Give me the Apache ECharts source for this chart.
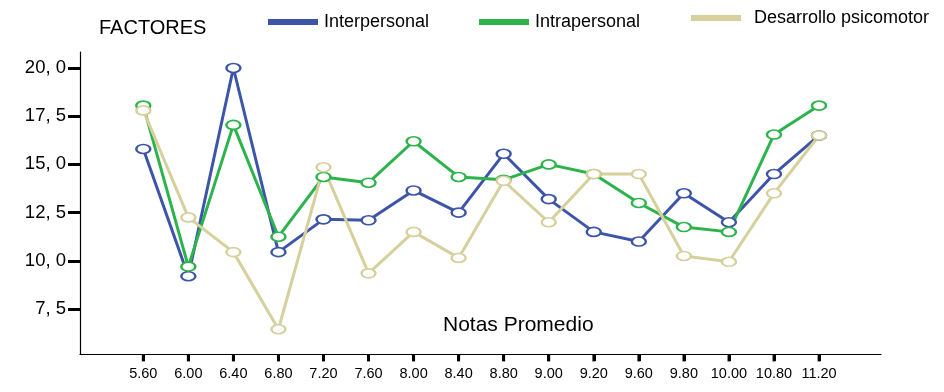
<!DOCTYPE html>
<html>
<head>
<meta charset="utf-8">
<script src="https://cdn.jsdelivr.net/npm/echarts@6/dist/echarts.min.js"></script>
<style>
html,body{margin:0;padding:0;background:#fff;}
#chart{width:944px;height:392px;}
</style>
</head>
<body>
<div id="chart"></div>
<script>
var categories = ['5.60','6.00','6.40','6.80','7.20','7.60','8.00','8.40','8.80','9.00','9.20','9.60','9.80','10.00','10.80','11.20'];
var interpersonal = [15.8, 9.2, 20.0, 10.45, 12.15, 12.1, 13.65, 12.5, 15.55, 13.2, 11.5, 11.0, 13.5, 12.0, 14.5, 16.5];
var intrapersonal = [18.05, 9.7, 17.05, 11.25, 14.35, 14.05, 16.2, 14.35, 14.2, 15.0, 14.5, 13.0, 11.75, 11.5, 16.55, 18.05];
var desarrollo = [17.8, 12.25, 10.45, 6.45, 14.85, 9.35, 11.5, 10.15, 14.15, 12.0, 14.5, 14.5, 10.25, 9.95, 13.5, 16.5];
var yTicks = [7.5, 10.0, 12.5, 15.0, 17.5, 20.0];

var COLORS = {blue:'#3d55a9', green:'#2db34b', tan:'#d6d09c'};
var FONT = 'Liberation Sans, Arial, sans-serif';
var Y_MIN = 5.166, Y_MAX = 20.83, X_MIN = -1.405, X_MAX = 16.376;

function toPairs(arr){ return arr.map(function(v,i){ return [i, v]; }); }
var idx = categories.map(function(c,i){ return i; });

function mkSeries(name, data, color){
  return {
    name: name, type: 'line', data: toPairs(data),
    symbol: 'emptyCircle', symbolSize: [14, 9],
    lineStyle: {color: color, width: 3},
    itemStyle: {color: color, borderColor: color, borderWidth: 2.5},
    emphasis: {disabled: true},
    animation: false
  };
}

var chart = echarts.init(document.getElementById('chart'), null, {renderer:'canvas'});
chart.setOption({
  backgroundColor: '#fff',
  animation: false,
  title: {text: 'FACTORES', left: 99, top: 18, padding: 0,
    textStyle: {fontFamily: FONT, fontSize: 20, fontWeight: 'normal', color: '#000'}},
  legend: [
    {data: [{name:'Interpersonal', icon:'rect'}], left: 268, top: 13, padding: 0, itemWidth: 48, itemHeight: 4,
      textStyle: {fontFamily: FONT, fontSize: 18, color: '#000', padding: [0,0,0,2]}, selectedMode: false},
    {data: [{name:'Intrapersonal', icon:'rect'}], left: 479, top: 13, padding: 0, itemWidth: 48, itemHeight: 4,
      textStyle: {fontFamily: FONT, fontSize: 18, color: '#000', padding: [0,0,0,2]}, selectedMode: false},
    {data: [{name:'Desarrollo psicomotor', icon:'rect'}], left: 691, top: 9, padding: 0, itemWidth: 48, itemHeight: 4,
      textStyle: {fontFamily: FONT, fontSize: 18, color: '#000', padding: [0,0,0,9]}, selectedMode: false}
  ],
  grid: {left: 80, right: 63, top: 52, bottom: 38, containLabel: false},
  xAxis: {
    type: 'value', min: X_MIN, max: X_MAX,
    splitLine: {show: false},
    axisLine: {show: true, onZero: false, lineStyle: {color: '#000', width: 1.2}},
    axisTick: {show: true, inside: false, length: 7, lineStyle: {color: '#000', width: 3}, customValues: idx},
    axisLabel: {show: true, margin: 12, fontFamily: FONT, fontSize: 14.5, color: '#000', customValues: idx,
      formatter: function(v){ var i = Math.round(v); return categories[i] || ''; }}
  },
  yAxis: {
    type: 'value', min: Y_MIN, max: Y_MAX,
    splitLine: {show: false},
    axisLine: {show: true, onZero: false, lineStyle: {color: '#000', width: 1.2}},
    axisTick: {show: true, length: 12, lineStyle: {color: '#000', width: 3}, customValues: yTicks},
    axisLabel: {show: true, margin: 14, fontFamily: FONT, fontSize: 18.5, color: '#000', customValues: yTicks,
      formatter: function(v){ return v.toFixed(1).replace('.', ', '); }}
  },
  graphic: [
    {type: 'text', left: 443, top: 315, style: {text: 'Notas Promedio', font: '21px ' + FONT, fill: '#000'}}
  ],
  series: [
    {
      name: 'xticks', type: 'scatter', silent: true, clip: false, z: 1,
      data: idx.map(function(i){ return [i, Y_MIN]; }),
      symbol: 'rect', symbolSize: [3, 7], symbolOffset: [0, 4],
      itemStyle: {color: '#000'}, emphasis: {disabled: true}, animation: false
    },
    mkSeries('Interpersonal', interpersonal, COLORS.blue),
    mkSeries('Intrapersonal', intrapersonal, COLORS.green),
    mkSeries('Desarrollo psicomotor', desarrollo, COLORS.tan)
  ]
});
</script>
</body>
</html>
